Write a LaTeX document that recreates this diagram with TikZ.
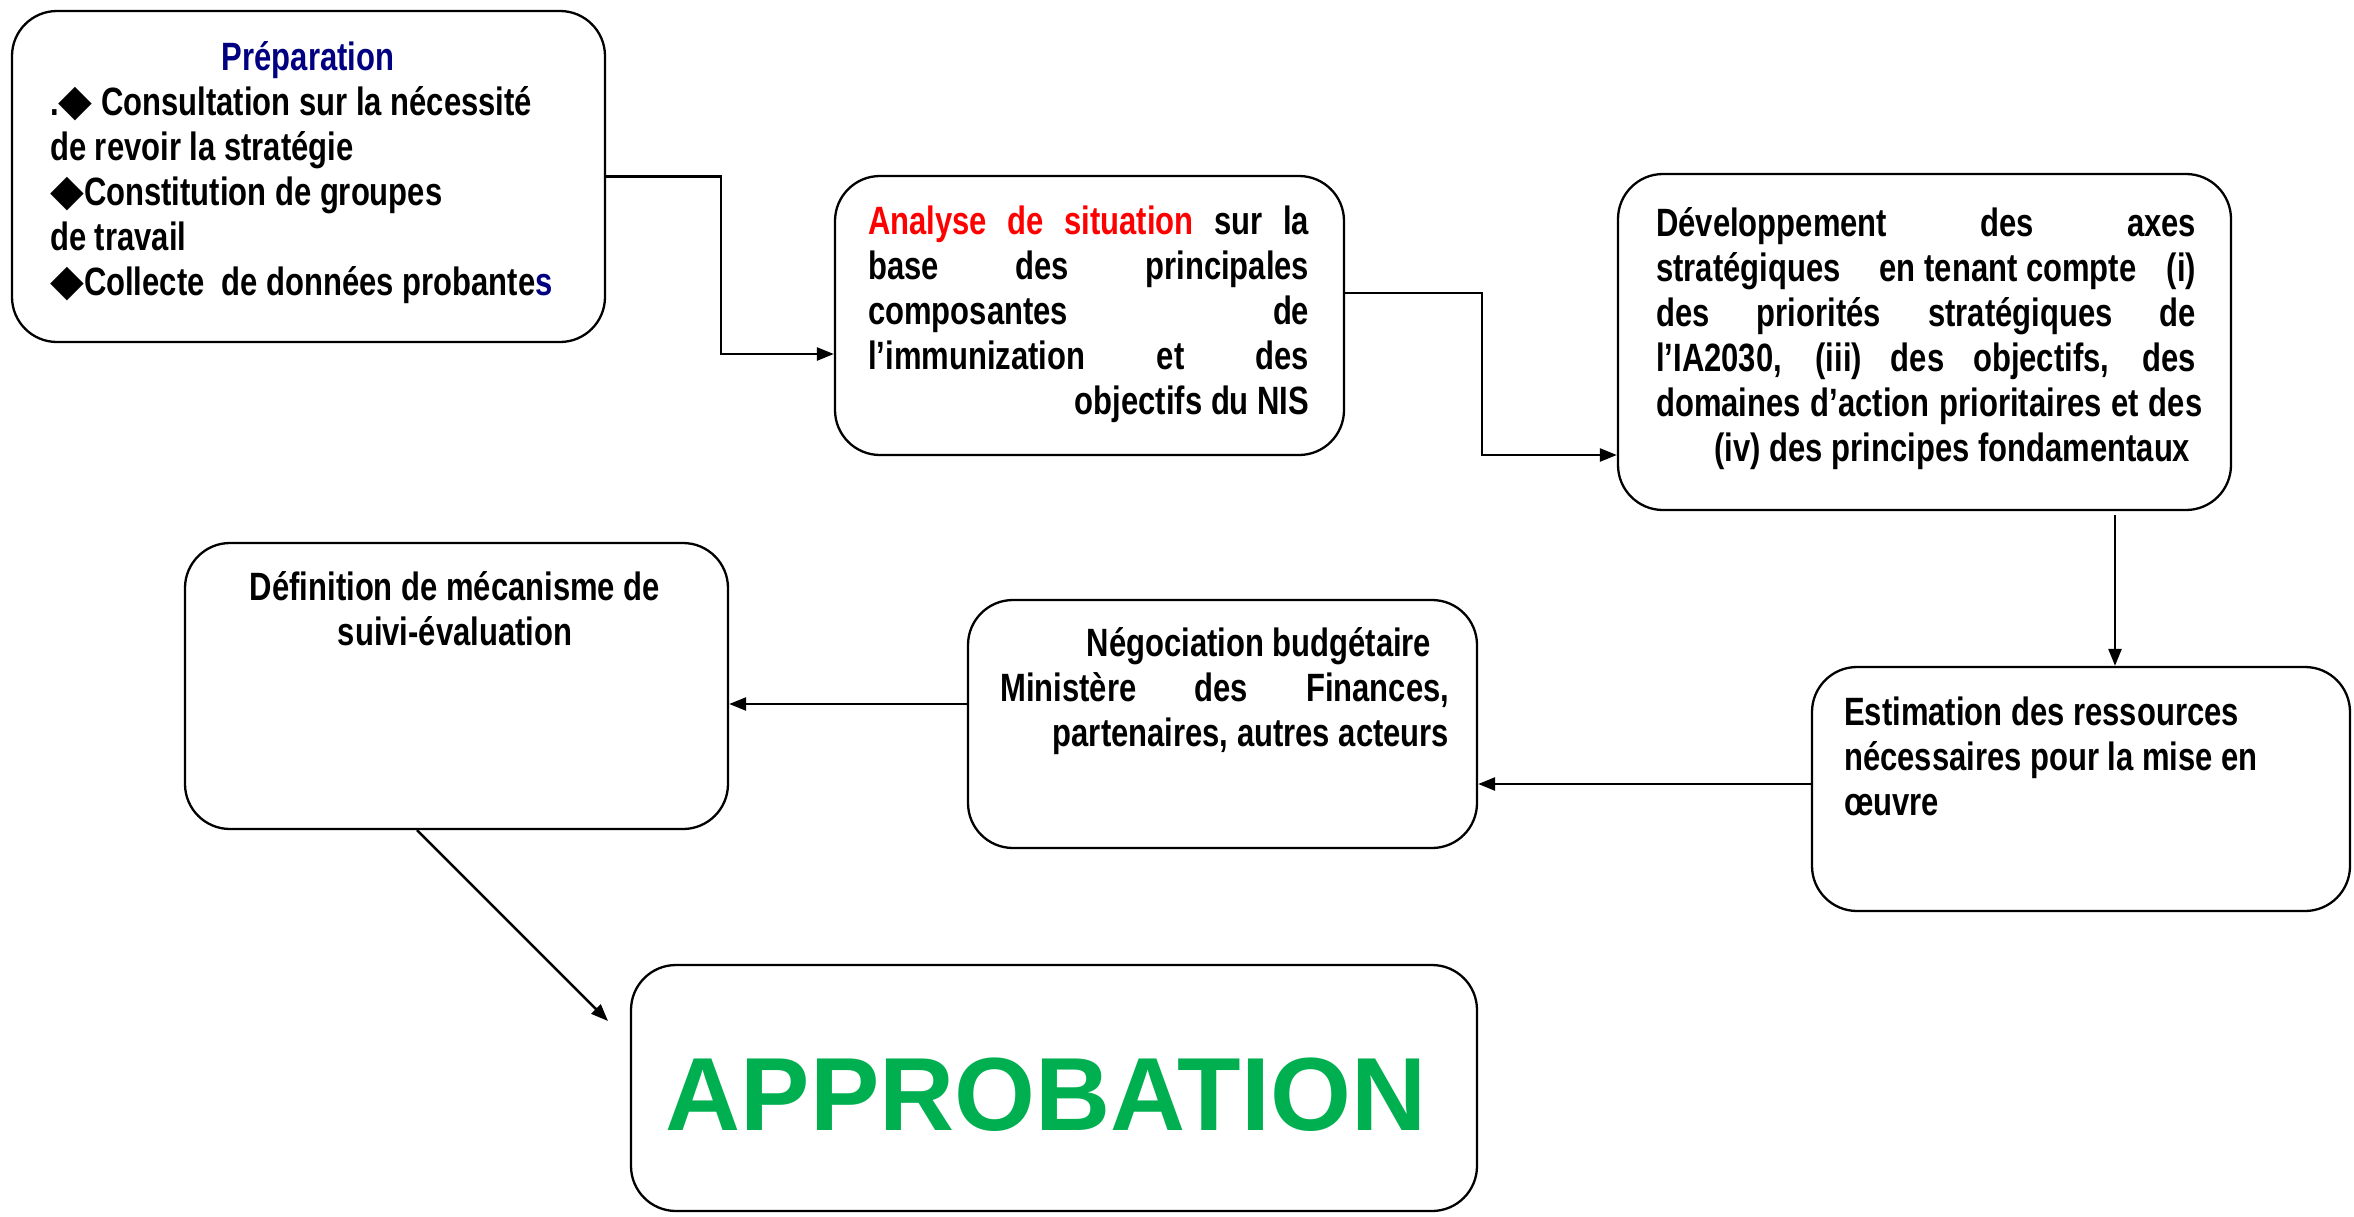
\documentclass[tikz,border=0pt]{standalone}
\usepackage{fontspec}
\setmainfont{Liberation Sans}
\newfontfamily\narrow[FakeStretch=0.785]{Liberation Sans}
\newfontfamily\dejavu{DejaVu Sans}
\usetikzlibrary{arrows.meta}
\definecolor{navyblue}{HTML}{000080}
\definecolor{okgreen}{HTML}{00B050}
\newcommand{\jl}[1]{\hbox to\hsize{\spaceskip=0.25em plus 1fil\relax #1}}
\newcommand{\rtline}[1]{\hbox to\hsize{\hfil #1}}
\newcommand{\lfline}[1]{\hbox to\hsize{#1\hfil}}
\newcommand{\ctline}[1]{\hbox to\hsize{\hfil #1\hfil}}
\newcommand{\dia}{{\dejavu\fontsize{44}{45}\selectfont ◆}}
\tikzset{
  box/.style={draw=black, line width=2.3pt, rounded corners=45pt, inner sep=0pt},
  txt/.style={inner sep=0pt, anchor=base west, font=\narrow\bfseries\fontsize{39.5}{45}\selectfont},
  arr/.style={line width=2.5pt, -{Triangle[length=17pt,width=13pt]}},
}
\begin{document}
\begin{tikzpicture}[x=1pt,y=-1pt]
\useasboundingbox (0,0) rectangle (2354,1216);
% boxes
\node[box, minimum width=593pt, minimum height=331pt] (b1) at (308.5,176.5) {};
\node[box, minimum width=509pt, minimum height=279pt] (b2) at (1089.5,315.5) {};
\node[box, minimum width=613pt, minimum height=336pt] (b3) at (1924.5,342) {};
\node[box, minimum width=538pt, minimum height=244pt] (b4) at (2081,789) {};
\node[box, minimum width=509pt, minimum height=248pt] (b5) at (1222.5,724) {};
\node[box, minimum width=543pt, minimum height=286pt] (b6) at (456.5,686) {};
\node[box, minimum width=846pt, minimum height=246pt] (b7) at (1054,1088) {};
% texts
\node[txt, anchor=base, text=navyblue] (t1h) at (308,70) {Préparation};
\node[txt] (t1) at (50,115) {\vtop{\hsize=560pt
  \lfline{.\dia\ Consultation sur la nécessité}
  \lfline{de revoir la stratégie}
  \lfline{\dia Constitution de groupes}
  \lfline{de travail}
  \lfline{\dia Collecte\ \ de données probante\textcolor{navyblue}{s}}}};
\node[txt] (t2) at (868,234) {\vtop{\hsize=441pt
  \jl{\textcolor{red}{Analyse de situation} sur la}
  \jl{base des principales}
  \jl{composantes de}
  \jl{l’immunization et des}
  \rtline{objectifs du NIS}}};
\node[txt] (t3) at (1656,236) {\vtop{\hsize=540pt
  \jl{Développement des axes}
  \hbox to\hsize{stratégiques\hfil\ en tenant compte\hfil (i)}
  \jl{des priorités stratégiques de}
  \jl{l’IA2030, (iii) des objectifs, des}
  \jl{domaines d’action prioritaires et des}
  \rtline{(iv) des principes fondamentaux\hspace*{6pt}}}};
\node[txt] (t4) at (1844,725) {\vtop{\hsize=460pt
  \lfline{Estimation des ressources}
  \lfline{nécessaires pour la mise en}
  \lfline{œuvre}}};
\node[txt] (t5) at (1000,656) {\vtop{\hsize=449pt
  \rtline{Négociation budgétaire\hspace*{18pt}}
  \jl{Ministère des Finances,}
  \rtline{partenaires, autres acteurs}}};
\node[txt, anchor=base] (t6) at (455,600) {\vtop{\hsize=500pt
  \ctline{Définition de mécanisme de}
  \ctline{suivi-évaluation}}};
\node[inner sep=0pt, anchor=base, text=okgreen, font=\bfseries\fontsize{104}{110}\selectfont] (t7) at (1046,1130) {APPROBATION};
% connectors
\coordinate (k1) at (721,354);
\draw[arr] (b1.east) -| (k1) -- (k1 -| b2.west);
\coordinate (k2) at (1482,293);
\coordinate (k3) at (1482,455);
\draw[arr] (k2 -| b2.east) -- (k2) -- (k3) -- (k3 -| b3.west);
\coordinate (k34) at (2115,515);
\draw[arr] (k34) -- (k34 |- b4.north);
\coordinate (k45) at (0,784);
\draw[arr] (k45 -| b4.west) -- (k45 -| b5.east);
\coordinate (k56) at (0,704);
\draw[arr] (k56 -| b5.west) -- (k56 -| b6.east);
\coordinate (k6) at (417,0);
\coordinate (k7) at (608,1021);
\draw[arr] (k6 |- b6.south) -- (k7);
\end{tikzpicture}
\end{document}
